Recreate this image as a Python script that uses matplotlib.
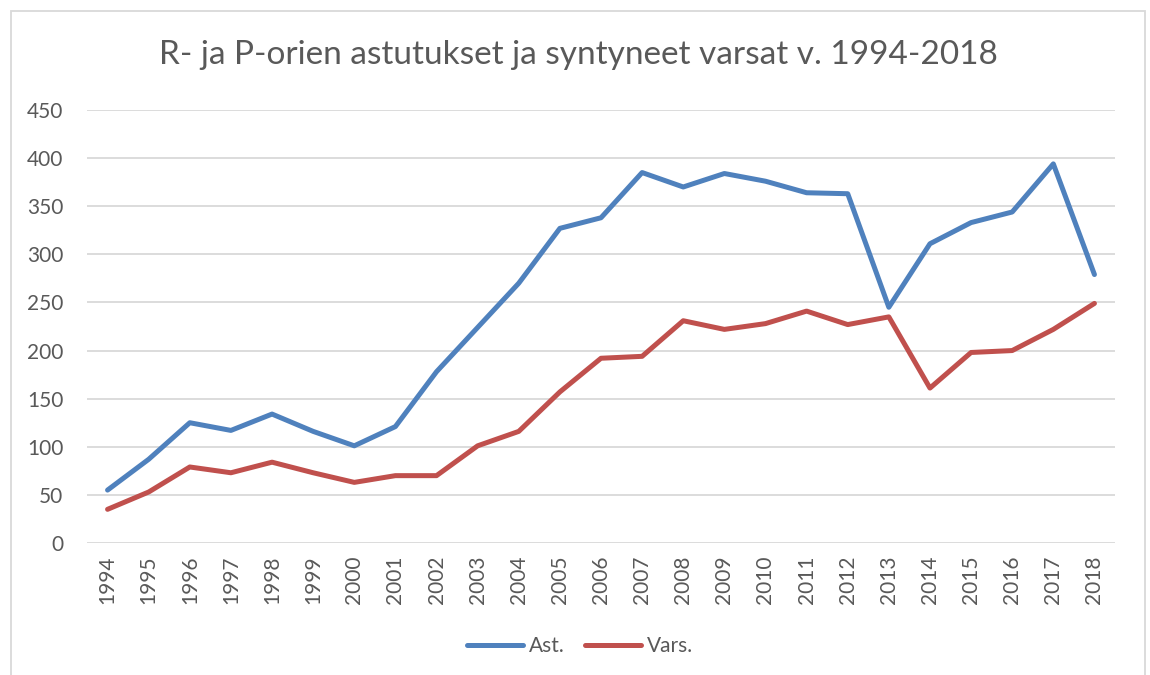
import matplotlib
matplotlib.use("Agg")
import matplotlib.pyplot as plt
from matplotlib.patches import Rectangle

years = [str(y) for y in range(1994, 2019)]
ast = [55, 87, 125, 117, 134, 116, 101, 121, 178, 224, 270, 327, 338, 385, 370,
       384, 376, 364, 363, 245, 311, 333, 344, 394, 279]
vars_ = [35, 53, 79, 73, 84, 73, 63, 70, 70, 101, 116, 157, 192, 194, 231,
         222, 228, 241, 227, 235, 161, 198, 200, 222, 249]
yticks = list(range(0, 451, 50))
title = "R- ja P-orien astutukset ja syntyneet varsat v. 1994-2018"
series_names = ["Ast.", "Vars."]

plt.rcParams['font.family'] = ['Lato', 'DejaVu Sans']
txt = '#595959'

fig = plt.figure(figsize=(11.5, 6.75), dpi=100)
W, H = 1150, 675
ax = fig.add_axes([87 / W, 1 - 543 / H, (1115 - 87) / W, (543 - 110) / H])

x = list(range(len(years)))
l1, = ax.plot(x, ast, color='#4F81BD', lw=3.6, solid_capstyle='round', solid_joinstyle='round')
l2, = ax.plot(x, vars_, color='#C0504D', lw=3.6, solid_capstyle='round', solid_joinstyle='round')

ax.set_xlim(-0.5, len(years) - 0.5)
ax.set_ylim(0, 450)
ax.set_yticks(yticks)
ax.set_xticks(x)
ax.set_xticklabels(years, rotation=90)
ax.yaxis.grid(True, color='#D9D9D9', lw=1.3)
ax.set_axisbelow(True)
for s in ax.spines.values():
    s.set_visible(False)
ax.tick_params(axis='both', length=0, colors=txt, labelsize=15)
ax.tick_params(axis='y', pad=17)
ax.tick_params(axis='x', pad=9)

fig.text(578 / W, 1 - 55 / H, title, ha='center', va='center', fontsize=24, color=txt)

fig.legend([l1, l2], series_names, loc='center', bbox_to_anchor=(580 / W, 1 - 646 / H),
           ncol=2, frameon=False, fontsize=15, handlelength=2.7, handletextpad=0.25,
           columnspacing=1.0, labelcolor=txt)

fig.patches.append(Rectangle((11 / W, -0.01), (1145 - 11) / W, 1 - 11 / H + 0.01,
                             transform=fig.transFigure, fill=False, edgecolor='#D9D9D9', lw=1.3))

fig.savefig('out.png', dpi=100, facecolor='white')
